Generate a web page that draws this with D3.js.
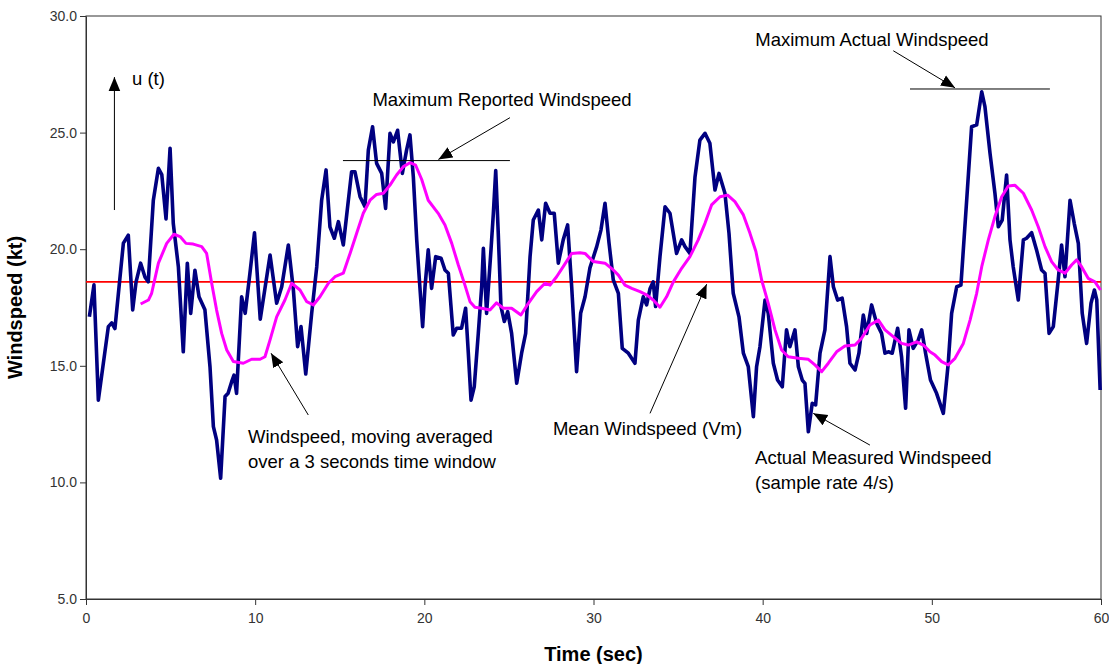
<!DOCTYPE html>
<html>
<head>
<meta charset="utf-8">
<script src="https://cdn.jsdelivr.net/npm/d3@7"></script>
<style>
	body { margin: 0; background: #fff; }
	text { font-family: Arial, "Liberation Sans", sans-serif; }
	.tick text { font-size: 14px; fill: #333; }
	.axis-title { font-size: 20px; font-weight: bold; fill: #000; }
	.note { font-size: 18.5px; fill: #000; }
	.note-line { stroke: #000; stroke-width: 1; fill: none; }
</style>
</head>
<body>
<div id="chart"></div>
<script>
////////////////////////////////////////////////////////////
//////////////////////// Data //////////////////////////////
////////////////////////////////////////////////////////////

//Actual measured windspeed (sample rate 4/s)
var actualTime = [0.2,0.47,0.73,1.32,1.52,1.71,2.21,2.5,2.76,2.96,3.23,3.49,3.68,3.98,4.28,4.48,4.73,4.97,5.16,5.46,
	5.75,5.99,6.19,6.44,6.68,7.03,7.33,7.53,7.72,7.96,8.22,8.4,8.61,8.75,8.9,9.2,9.41,9.69,9.96,10.3,
	10.88,11.27,11.57,11.96,12.26,12.51,12.71,12.99,13.34,13.64,13.93,14.19,14.42,14.68,14.92,15.21,15.7,15.9,16.2,16.49,
	16.69,16.94,17.18,17.48,17.71,17.97,18.17,18.42,18.7,18.95,19.15,19.35,19.55,19.68,19.9,20.04,20.23,20.43,20.67,20.99,
	21.22,21.42,21.71,21.91,22.2,22.44,22.6,22.76,22.95,23.19,23.39,23.49,23.68,23.94,24.08,24.22,24.37,24.53,24.73,24.93,
	25.16,25.46,25.75,25.99,26.25,26.44,26.74,26.94,27.17,27.43,27.68,27.92,28.21,28.47,28.71,29.0,29.24,29.5,29.79,30.19,
	30.44,30.68,30.92,31.17,31.47,31.7,32.06,32.45,32.65,32.94,33.14,33.34,33.53,33.67,33.93,34.23,34.52,34.91,35.21,35.41,
	35.7,36.0,36.29,36.59,36.88,37.18,37.42,37.77,38.01,38.26,38.6,38.86,39.15,39.45,39.64,39.84,40.14,40.33,40.63,40.88,
	41.16,41.41,41.61,41.91,42.11,42.34,42.5,42.7,42.93,43.13,43.39,43.68,43.98,44.18,44.43,44.7,44.96,45.16,45.46,45.69,
	45.95,46.15,46.44,46.74,47.03,47.23,47.43,47.66,47.98,48.21,48.45,48.65,48.9,49.2,49.4,49.63,49.92,50.28,50.68,50.97,
	51.17,51.47,51.72,52.06,52.35,52.65,52.95,53.14,53.44,53.73,53.93,54.16,54.42,54.62,54.81,55.11,55.41,55.6,55.9,56.19,
	56.49,56.69,56.93,57.18,57.47,57.67,57.87,58.17,58.42,58.66,58.89,59.15,59.41,59.61,59.75,59.95];
var actualSpeed = [17.1,18.47,13.53,16.68,16.84,16.6,20.26,20.6,17.4,18.6,19.4,18.8,18.6,22.1,23.47,23.2,21.3,24.33,21.1,19.25,
	15.6,19.4,17.25,19.1,17.96,17.4,14.96,12.39,11.82,10.18,13.68,13.82,14.32,14.6,13.82,17.96,17.25,18.97,20.7,17.0,
	19.75,17.68,18.39,20.18,18.25,15.82,16.68,14.65,17.25,19.25,22.1,23.4,20.96,20.47,21.18,20.18,23.32,23.32,22.25,21.82,
	24.25,25.25,23.68,23.25,21.75,24.97,24.6,25.1,23.25,24.25,24.9,23.1,20.4,18.97,16.68,18.39,19.97,18.32,19.68,19.61,
	19.11,18.97,16.32,16.61,16.61,17.47,15.54,13.53,14.1,16.39,18.39,20.04,17.25,19.97,21.54,23.37,20.68,17.54,16.9,17.32,
	16.39,14.25,15.54,16.39,19.68,21.25,21.68,20.4,21.97,21.54,21.54,19.4,20.4,21.04,18.39,14.75,17.25,17.96,19.2,20.11,
	20.82,21.97,20.25,18.68,18.11,15.75,15.54,15.11,16.96,17.96,17.61,18.3,18.6,17.54,19.68,21.82,21.54,19.82,20.4,20.11,
	19.82,23.1,24.68,24.97,24.54,22.54,23.25,22.4,20.68,18.11,17.1,15.54,14.96,12.82,14.96,15.82,17.82,17.25,15.11,14.39,
	14.1,16.54,15.82,16.54,14.96,14.39,14.25,12.17,13.39,13.32,15.54,16.54,19.68,18.39,17.82,17.9,16.68,15.11,14.82,15.54,
	17.18,16.39,17.61,16.82,16.39,15.54,15.6,15.54,16.61,15.39,13.18,16.54,15.75,16.11,16.54,15.54,14.39,13.82,12.96,15.11,
	17.25,18.39,18.46,22.1,25.25,25.33,26.75,26.11,24.11,22.4,20.96,21.25,23.18,20.4,19.25,17.82,20.4,20.47,20.71,19.97,
	19.11,18.97,16.39,16.68,18.68,20.18,18.82,22.1,21.1,20.25,17.25,15.96,17.68,18.25,17.82,13.96];

//Windspeed moving averaged over a 3 seconds time window
var averageTime = [3.23,3.69,3.88,4.28,4.77,5.2,5.56,5.91,6.34,6.84,7.13,7.43,7.72,8.02,8.32,8.71,9.3,9.79,10.29,10.58,
	10.88,11.27,11.76,12.16,12.65,13.05,13.44,13.83,14.33,14.72,15.21,15.61,16.0,16.39,16.79,17.18,17.58,17.97,18.36,18.76,
	19.15,19.48,19.84,20.23,20.82,21.22,21.62,22.01,22.4,22.7,22.99,23.39,23.88,24.27,24.67,25.16,25.71,26.15,26.64,27.13,
	27.43,27.82,28.21,28.71,29.2,29.5,29.99,30.68,31.17,31.47,31.86,32.26,32.75,33.14,33.53,33.93,34.32,34.72,35.21,35.7,
	36.19,36.59,36.98,37.48,37.93,38.36,38.86,39.25,39.6,39.94,40.33,40.73,41.12,41.51,42.11,42.7,43.09,43.49,43.88,44.37,
	44.86,45.46,45.85,46.34,46.84,47.23,47.72,48.21,48.61,49.1,49.5,49.89,50.19,50.58,50.97,51.37,51.86,52.26,52.65,52.95,
	53.34,53.73,54.13,54.52,54.92,55.41,55.9,56.29,56.69,57.08,57.47,57.87,58.26,58.56,58.85,59.24,59.64,59.97];
var averageSpeed = [17.65,17.82,18.11,19.4,20.25,20.64,20.54,20.25,20.22,20.11,19.82,18.54,17.39,16.39,15.68,15.18,15.11,15.28,15.28,15.39,
	16.11,17.1,17.82,18.54,18.25,17.75,17.61,17.96,18.54,18.82,18.97,19.82,20.68,21.54,22.1,22.35,22.4,22.75,23.18,23.54,
	23.71,23.61,23.0,22.1,21.54,21.04,20.25,19.32,18.46,17.75,17.51,17.47,17.39,17.7,17.47,17.47,17.18,17.68,18.18,18.54,
	18.46,18.82,19.25,19.82,19.85,19.82,19.47,19.4,19.11,18.89,18.46,18.32,18.18,18.04,17.82,17.51,17.96,18.6,19.18,19.68,
	20.4,21.11,21.9,22.25,22.32,22.04,21.47,20.68,19.9,18.68,17.68,16.54,15.68,15.39,15.32,15.28,15.04,14.75,15.11,15.6,
	15.85,15.89,16.18,16.75,16.96,16.54,16.25,15.96,15.89,16.03,15.89,15.6,15.46,15.18,15.04,15.32,15.96,16.96,18.11,19.25,
	20.4,21.4,22.25,22.71,22.74,22.4,21.68,20.96,20.11,19.47,19.11,18.97,19.32,19.54,19.25,18.75,18.6,18.25];

var meanSpeed = 18.6;
var maxReported = 23.8;
var maxActual = 26.87;

var xTicks = [0, 10, 20, 30, 40, 50, 60];
var yTicks = [5, 10, 15, 20, 25, 30];

////////////////////////////////////////////////////////////
/////////////////////// Set-up /////////////////////////////
////////////////////////////////////////////////////////////

var margin = {top: 16, right: 8, bottom: 65, left: 86},
	width = 1109 - margin.left - margin.right,
	height = 664 - margin.top - margin.bottom;

var svg = d3.select("#chart").append("svg")
	.attr("width", width + margin.left + margin.right)
	.attr("height", height + margin.top + margin.bottom)
	.append("g")
	.attr("transform", "translate(" + margin.left + "," + margin.top + ")");

var x = d3.scaleLinear().domain([0, 60]).range([0, width]);
var y = d3.scaleLinear().domain([5, 30]).range([height, 0]);

//Arrow head
svg.append("defs").append("marker")
	.attr("id", "arrow-head")
	.attr("viewBox", "0 0 12 10")
	.attr("refX", 12)
	.attr("refY", 5)
	.attr("markerUnits", "userSpaceOnUse")
	.attr("markerWidth", 14)
	.attr("markerHeight", 13)
	.attr("orient", "auto")
	.append("path")
	.attr("d", "M0,0L12,5L0,10Z")
	.style("fill", "#000");

////////////////////////////////////////////////////////////
///////////////////////// Axes /////////////////////////////
////////////////////////////////////////////////////////////

//Plot area border
svg.append("rect")
	.attr("width", width)
	.attr("height", height)
	.style("fill", "none")
	.style("stroke", "#333")
	.style("stroke-width", 1);

svg.append("g")
	.attr("class", "x-axis")
	.attr("transform", "translate(0," + height + ")")
	.call(d3.axisBottom(x).tickValues(xTicks).tickSize(6).tickSizeOuter(0).tickPadding(8).tickFormat(d3.format("d")));

svg.append("g")
	.attr("class", "y-axis")
	.call(d3.axisLeft(y).tickValues(yTicks).tickSize(6).tickSizeOuter(0).tickPadding(3).tickFormat(d3.format(".1f")));

svg.selectAll(".domain, .tick line").style("stroke", "#333");

svg.append("text")
	.attr("class", "axis-title")
	.attr("x", width / 2)
	.attr("y", height + 62)
	.style("text-anchor", "middle")
	.text("Time (sec)");

svg.append("text")
	.attr("class", "axis-title")
	.attr("transform", "translate(" + (-64) + "," + (height / 2) + ")rotate(-90)")
	.style("text-anchor", "middle")
	.text("Windspeed (kt)");

////////////////////////////////////////////////////////////
///////////////////////// Lines ////////////////////////////
////////////////////////////////////////////////////////////

var line = d3.line()
	.x(function(d) { return x(d[0]); })
	.y(function(d) { return y(d[1]); });

//Mean windspeed
svg.append("line")
	.attr("x1", x(0))
	.attr("x2", x(60))
	.attr("y1", y(meanSpeed))
	.attr("y2", y(meanSpeed))
	.style("stroke", "#f00")
	.style("stroke-width", 1.6);

//Actual measured
svg.append("path")
	.datum(d3.zip(actualTime, actualSpeed))
	.attr("d", line)
	.style("fill", "none")
	.style("stroke", "#000080")
	.style("stroke-width", 3.6)
	.style("stroke-linejoin", "round");

//Moving average
svg.append("path")
	.datum(d3.zip(averageTime, averageSpeed))
	.attr("d", line)
	.style("fill", "none")
	.style("stroke", "#f0f")
	.style("stroke-width", 3)
	.style("stroke-linejoin", "round");

////////////////////////////////////////////////////////////
////////////////////// Annotations /////////////////////////
////////////////////////////////////////////////////////////

//Maximum levels
svg.selectAll(".max-line")
	.data([[15.19, 25.06, maxReported], [48.71, 56.98, maxActual]])
	.enter().append("line")
	.attr("class", "note-line max-line")
	.attr("x1", function(d) { return x(d[0]); })
	.attr("x2", function(d) { return x(d[1]); })
	.attr("y1", function(d) { return y(d[2]); })
	.attr("y2", function(d) { return y(d[2]); });

//Arrows, [from t, from v, to t, to v]
var arrows = [
	[1.68, 21.68, 1.68, 27.38],
	[25.06, 25.64, 20.83, maxReported + 0.05],
	[47.72, 28.51, 51.37, maxActual + 0.05],
	[13.14, 12.89, 10.94, 15.54],
	[33.34, 12.96, 36.69, 18.5],
	[46.34, 11.6, 42.99, 12.96]
];

svg.selectAll(".note-arrow")
	.data(arrows)
	.enter().append("line")
	.attr("class", "note-line note-arrow")
	.attr("x1", function(d) { return x(d[0]); })
	.attr("y1", function(d) { return y(d[1]); })
	.attr("x2", function(d) { return x(d[2]); })
	.attr("y2", function(d) { return y(d[3]); })
	.attr("marker-end", "url(#arrow-head)");

//Texts, [t, v, anchor, lines]
var notes = [
	[2.72, 27.34, "start", ["u (t)"]],
	[24.59, 26.4, "middle", ["Maximum Reported Windspeed"]],
	[46.46, 28.97, "middle", ["Maximum Actual Windspeed"]],
	[9.58, 11.95, "start", ["Windspeed, moving averaged", "over a 3 seconds time window"]],
	[27.6, 12.33, "start", ["Mean Windspeed (Vm)"]],
	[39.55, 11.05, "start", ["Actual Measured Windspeed", "(sample rate 4/s)"]]
];

var noteText = svg.selectAll(".note")
	.data(notes)
	.enter().append("text")
	.attr("class", "note")
	.attr("x", function(d) { return x(d[0]); })
	.attr("y", function(d) { return y(d[1]); })
	.style("text-anchor", function(d) { return d[2]; });

noteText.selectAll("tspan")
	.data(function(d) { return d[3].map(function(s) { return {text: s, x: x(d[0])}; }); })
	.enter().append("tspan")
	.attr("x", function(d) { return d.x; })
	.attr("dy", function(d, i) { return i === 0 ? "0.35em" : "1.35em"; })
	.text(function(d) { return d.text; });

</script>
</body>
</html>
